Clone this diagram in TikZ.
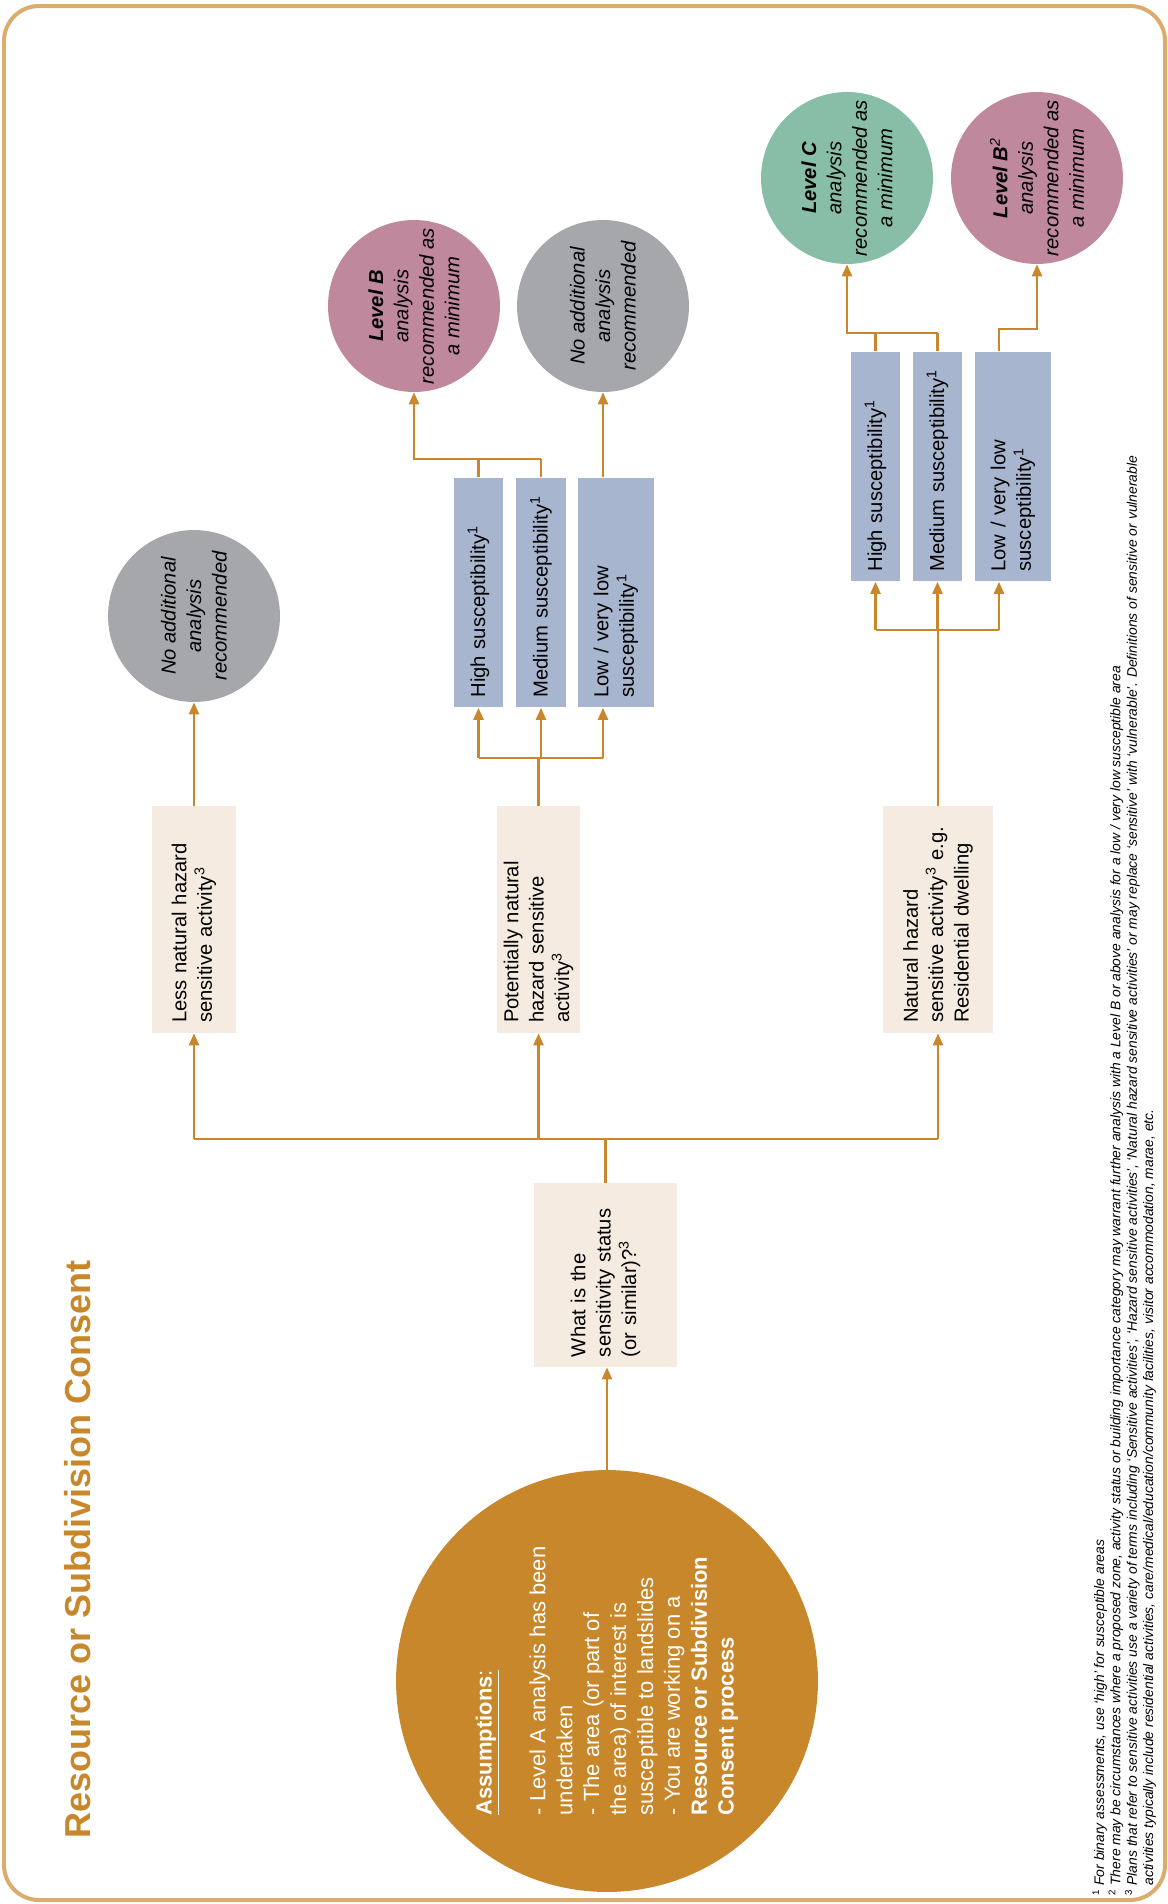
\documentclass[tikz,border=0pt]{standalone}
\usepackage{fontspec}
\setmainfont{Liberation Sans}
\usepackage{tikz}
\usetikzlibrary{calc, arrows.meta}
\definecolor{flowOrange}{RGB}{200,135,42}
\definecolor{frameTan}{RGB}{218,172,110}
\definecolor{boxBeige}{RGB}{245,235,224}
\definecolor{boxBlue}{RGB}{168,181,206}
\definecolor{levelB}{RGB}{192,136,157}
\definecolor{levelC}{RGB}{136,190,168}
\definecolor{noneGrey}{RGB}{166,167,171}

\begin{document}
\begin{tikzpicture}[x=0.02cm, y=-0.02cm,
  txt/.style={font=\fontsize{11.5}{14.5}\selectfont},
  actbox/.style={txt, rotate=90, fill=boxBeige, align=left, inner xsep=0.2cm, inner ysep=0pt},
  susbox/.style={txt, rotate=90, fill=boxBlue, align=left, text width=4.2cm, inner xsep=0.2cm, inner ysep=0pt},
  outcome/.style={rotate=90, circle, minimum size=3.44cm, inner sep=-0.2cm, align=center, font=\fontsize{11.5}{14.5}\selectfont\itshape},
  link/.style={flowOrange, line width=0.05cm},
  arr/.style={link, -{Triangle[length=0.24cm, width=0.2cm]}}]
  \useasboundingbox (0,0) rectangle (1168,1904);
  \draw[frameTan, line width=0.08cm, rounded corners=0.7cm] (4,6) rectangle (1165,1900);

  \node[rotate=90, anchor=base west, inner sep=0pt, text=flowOrange, font=\fontsize{20.5}{24}\selectfont\bfseries] (title) at (90,1839) {Resource or Subdivision Consent};

  \node[rotate=90, circle, fill=flowOrange, minimum size=8.44cm, inner sep=0pt, text=white, align=left, font=\fontsize{12.5}{15.3}\selectfont] (assume) at (607,1681)
    {\underline{\textbf{Assumptions}:}\\[15.3pt]
     - Level A analysis has been\\ undertaken\\ - The area (or part of\\ the area) of interest is\\ susceptible to landslides\\ - You are working on a\\ \textbf{Resource or Subdivision}\\ \textbf{Consent process}};

  \node[actbox, text width=3.28cm, minimum height=2.86cm] (question) at (605.5,1275) {What is the\\sensitivity status\\(or similar)?\textsuperscript{3}};

  \node[actbox, text width=4.14cm, minimum height=1.68cm] (less) at (194,919.5) {Less natural hazard\\sensitive activity\textsuperscript{3}};
  \node[actbox, text width=4.14cm, minimum height=1.66cm] (potential) at (538.5,919.5) {Potentially natural\\hazard sensitive\\activity\textsuperscript{3}};
  \node[actbox, text width=4.14cm, minimum height=2.2cm] (natural) at (938,919.5) {Natural hazard\\sensitive activity\textsuperscript{3} e.g.\\Residential dwelling};

  \node[outcome, fill=noneGrey] (noneA) at (194,616) {No additional\\analysis\\recommended};

  \node[susbox, minimum height=0.98cm] (midhigh) at (478.5,592.5) {High susceptibility\textsuperscript{1}};
  \node[susbox, minimum height=1.0cm] (midmed) at (541,592.5) {Medium susceptibility\textsuperscript{1}};
  \node[susbox, minimum height=1.52cm] (midlow) at (616,592.5) {Low / very low\\susceptibility\textsuperscript{1}};

  \node[outcome, fill=levelB] (levelBa) at (414,306) {\textbf{Level B}\\analysis\\recommended as\\a minimum};
  \node[outcome, fill=noneGrey] (noneB) at (603,306) {No additional\\analysis\\recommended};

  \node[susbox, minimum height=0.98cm] (rhigh) at (875.5,466.5) {High susceptibility\textsuperscript{1}};
  \node[susbox, minimum height=0.98cm] (rmed) at (937.5,466.5) {Medium susceptibility\textsuperscript{1}};
  \node[susbox, minimum height=1.52cm] (rlow) at (1013,466.5) {Low / very low\\susceptibility\textsuperscript{1}};

  \node[outcome, fill=levelC] (levelC) at (847,178) {\textbf{Level C}\\analysis\\recommended as\\a minimum};
  \node[outcome, fill=levelB] (levelBb) at (1037,178) {\textbf{Level B}\textsuperscript{2}\\analysis\\recommended as\\a minimum};

  \node[rotate=90, anchor=north west, inner sep=0pt, align=left, font=\fontsize{7.9}{8.3}\selectfont] (notes) at (1092,1896)
    {\textsuperscript{1} \textit{For binary assessments, use ‘high’ for susceptible areas}\\
     \textsuperscript{2} \textit{There may be circumstances where a proposed zone, activity status or building importance category may warrant further analysis with a Level B or above analysis for a low / very low susceptible area}\\
     \textsuperscript{3} \textit{Plans that refer to sensitive activities use a variety of terms including ‘Sensitive activities’, ‘Hazard sensitive activities’, ‘Natural hazard sensitive activities’ or may replace ‘sensitive’ with ‘vulnerable’. Definitions of sensitive or vulnerable}\\
     \phantom{\textsuperscript{3} }\textit{activities typically include residential activities, care/medical/education/community facilities, visitor accommodation, marae, etc.}};

  \coordinate (bus) at (605.5,1139);
  \draw[arr] (assume.east) -- (assume.east |- question.west);
  \draw[link] (question.east) -- (bus);
  \draw[link] (bus -| less.west) -- (bus -| natural.west);
  \draw[arr] (bus -| less.west) -- (less.west);
  \draw[arr] (bus -| potential.west) -- (potential.west);
  \draw[arr] (bus -| natural.west) -- (natural.west);
  \draw[arr] (less.east) -- (noneA.west);

  \coordinate (midbus) at (538.5,758);
  \coordinate (midtop) at (541,459);
  \draw[link] (potential.east) -- (midbus);
  \draw[link] (midbus -| midhigh.west) -- (midbus -| noneB.west);
  \draw[arr] (midbus -| midhigh.west) -- (midhigh.west);
  \draw[arr] (midbus -| midmed.west) -- (midmed.west);
  \draw[arr] (midbus -| noneB.west) -- (midlow.west -| noneB.west);
  \draw[link] (midhigh.east) -- (midhigh.east |- midtop);
  \draw[link] (midmed.east) -- (midtop);
  \draw[arr] (midtop) -| (levelBa.west);
  \draw[arr] (midlow.east -| noneB.west) -- (noneB.west);

  \coordinate (rbus) at (938,630);
  \coordinate (rtop) at (937.5,333);
  \coordinate (rlowin) at ($(rlow.west)+(-14,0)$);
  \coordinate (rlowout) at ($(rlow.east)+(-14,0)$);
  \draw[link] (natural.east) -- (rbus);
  \draw[link] (rbus -| rhigh.west) -- (rbus -| rlowin);
  \draw[arr] (rbus -| rhigh.west) -- (rhigh.west);
  \draw[arr] (rbus -| rmed.west) -- (rmed.west);
  \draw[arr] (rbus -| rlowin) -- (rlowin);
  \draw[link] (rhigh.east) -- (rhigh.east |- rtop);
  \draw[link] (rmed.east) -- (rtop);
  \draw[arr] (rtop) -| (levelC.west);
  \draw[arr] (rlowout) -- ++(0,-22) -| (levelBb.west);
\end{tikzpicture}
\end{document}
